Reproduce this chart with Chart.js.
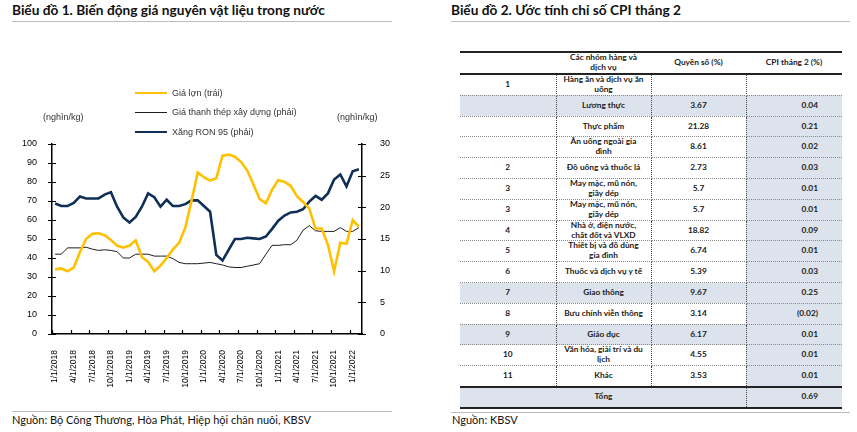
<!DOCTYPE html>
<html>
<head>
<meta charset="utf-8">
<script src="https://cdn.jsdelivr.net/npm/chart.js@4"></script>
<style>
  body { margin:0; background:#fff; width:857px; height:432px; position:relative; overflow:hidden; font-family:"Liberation Sans", Arial, sans-serif; }
  .title { position:absolute; top:2px; font-family:Lato, sans-serif; font-weight:700; font-size:13.7px; color:#111; line-height:16px; white-space:nowrap; }
  .rule { position:absolute; height:0; border-top:1.5px solid #bdbdbd; }
  .src { position:absolute; font-family:Lato, sans-serif; font-size:11px; color:#111; white-space:nowrap; line-height:13px; }
  #chartBox { position:absolute; left:0; top:0; width:420px; height:410px; }
  .unit { position:absolute; top:112px; font-size:9px; color:#333; }
  #legend { position:absolute; left:135px; top:83px; font-size:9px; color:#333; }
  #legend div { height:19.6px; display:flex; align-items:center; white-space:nowrap; }
  #legend span.ln { display:inline-block; width:32px; margin-right:5px; }
  table { position:absolute; left:460px; top:51px; width:382px; border-collapse:collapse; table-layout:fixed;
          font-family:Lato, sans-serif; font-weight:700; font-size:8.3px; color:#1a1a1a; }
  td, th { text-align:center; vertical-align:middle; padding:0 2px; line-height:9.9px; white-space:pre-line; box-sizing:border-box; }
  th { font-weight:700; height:22px; border-top:2px solid #222; border-bottom:2px solid #222; }
  td { height:20.8px; border-bottom:1px dotted #888; }
  td.c1, td.c2, td.c3 { border-right:1px dotted #444; }
  td.c4 { text-align:right; padding-right:24px; }
  .shade { background:#dde3ec; }
  tr.total td { border-top:2px solid #222; border-bottom:2px solid #222; height:21px; }
</style>
</head>
<body>
<div class="title" style="left:12px">Biểu đồ 1. Biến động giá nguyên vật liệu trong nước</div>
<div class="rule" style="left:12px; width:380px; top:20.5px"></div>
<div class="title" style="left:451px">Biểu đồ 2. Ước tính chỉ số CPI tháng 2</div>
<div class="rule" style="left:451px; width:399px; top:20.5px"></div>

<div id="chartBox"><canvas id="myChart"></canvas></div>
<div class="unit" style="left:43px">(nghìn/kg)</div>
<div class="unit" style="left:337px">(nghìn/kg)</div>
<div id="legend"></div>

<div class="rule" style="left:12px; width:380px; top:410.5px"></div>
<div class="src" style="left:12px; top:413px">Nguồn: Bộ Công Thương, Hòa Phát, Hiệp hội chăn nuôi, KBSV</div>
<div class="rule" style="left:451px; width:399px; top:411.5px"></div>
<div class="src" style="left:452px; top:413px">Nguồn: KBSV</div>

<table id="cpiTable"></table>

<script>
// --- chart 1 data (monthly, 1/2018 - 2/2022)
var months = [
  '1/1/2018','2/1/2018','3/1/2018','4/1/2018','5/1/2018','6/1/2018','7/1/2018','8/1/2018','9/1/2018','10/1/2018','11/1/2018','12/1/2018',
  '1/1/2019','2/1/2019','3/1/2019','4/1/2019','5/1/2019','6/1/2019','7/1/2019','8/1/2019','9/1/2019','10/1/2019','11/1/2019','12/1/2019',
  '1/1/2020','2/1/2020','3/1/2020','4/1/2020','5/1/2020','6/1/2020','7/1/2020','8/1/2020','9/1/2020','10/1/2020','11/1/2020','12/1/2020',
  '1/1/2021','2/1/2021','3/1/2021','4/1/2021','5/1/2021','6/1/2021','7/1/2021','8/1/2021','9/1/2021','10/1/2021','11/1/2021','12/1/2021',
  '1/1/2022','2/1/2022'
];
var porkPrice = [34, 34.5, 33, 35, 43, 50, 52.7, 53, 52, 49.5, 46.5, 45.5,
                 46.5, 49.3, 40.5, 38, 33, 36, 40, 44.5, 48, 56, 70, 85,
                 82.5, 80.7, 82, 93.9, 94.4, 93.3, 90.5, 86, 78.5, 71, 68.8, 76,
                 81, 80, 78, 72.5, 69.5, 66, 55.5, 55.5, 47, 33, 48, 47.5,
                 60, 56.5];
var steelPrice = [12.6, 12.6, 13.6, 13.6, 13.6, 13.7, 13.4, 13.2, 13.3, 13.2, 13.0, 12.0,
                  12.0, 12.6, 12.6, 12.6, 12.3, 12.3, 12.3, 11.9, 11.3, 11.1, 11.1, 11.1,
                  11.2, 11.3, 11.1, 10.9, 10.6, 10.5, 10.5, 10.7, 10.9, 11.1, 12.6, 14.0,
                  14.0, 14.1, 14.1, 14.8, 16.4, 17.1, 16.3, 16.2, 16.2, 16.2, 16.8, 16.2,
                  16.2, 16.8];
var ron95Price = [20.6, 20.2, 20.2, 20.7, 21.7, 21.4, 21.4, 21.4, 22.0, 22.4, 20.1, 18.4,
                  17.6, 18.5, 20.1, 22.2, 21.6, 20.1, 21.2, 20.2, 20.2, 20.5, 21.1, 21.1,
                  20.2, 19.3, 12.5, 11.6, 13.3, 15.0, 15.0, 15.2, 15.1, 15.0, 15.4, 16.6,
                  17.9, 18.7, 19.2, 19.3, 19.7, 20.9, 21.8, 21.2, 22.2, 24.4, 25.2, 23.3,
                  25.7, 26.0];

// --- table 2 data
var groupNo = ['1', '', '', '', '2', '3', '3', '4', '5', '6', '7', '8', '9', '10', '11'];
var groupName = ['Hàng ăn và dịch vụ ăn\nuống', 'Lương thực', 'Thực phẩm', 'Ăn uống ngoài gia\nđình',
                 'Đồ uống và thuốc lá', 'May mặc, mũ nón,\ngiầy dép', 'May mặc, mũ nón,\ngiầy dép',
                 'Nhà ở, điện nước,\nchất đốt và VLXD', 'Thiết bị và đồ dùng\ngia đình', 'Thuốc và dịch vụ y tế',
                 'Giao thông', 'Bưu chính viễn thông', 'Giáo dục', 'Văn hóa, giải trí và du\nlịch', 'Khác'];
var weights = ['', '3.67', '21.28', '8.61', '2.73', '5.7', '5.7', '18.82', '6.74', '5.39', '9.67', '3.14', '6.17', '4.55', '3.53'];
var cpiFeb = ['', '0.04', '0.21', '0.02', '0.03', '0.01', '0.01', '0.09', '0.01', '0.03', '0.25', '(0.02)', '0.01', '0.01', '0.01'];
var cpiTotal = '0.69';
var shadedRows = [1, 10, 12];

function build_table(){
    var t = document.getElementById('cpiTable');
    var html = '<colgroup><col style="width:96px"><col style="width:95px"><col style="width:95px"><col style="width:96px"></colgroup>';
    html += '<tr><th></th><th>Các nhóm hàng và\ndịch vụ</th><th>Quyền số (%)</th><th>CPI tháng 2 (%)</th></tr>';
    for (var i = 0; i < groupName.length; i++){
        var full = shadedRows.indexOf(i) >= 0 ? ' shade' : '';
        var last = (i > 0) ? ' shade' : '';
        html += '<tr>' +
            '<td class="c1' + full + '">' + groupNo[i] + '</td>' +
            '<td class="c2' + full + '">' + groupName[i] + '</td>' +
            '<td class="c3' + full + '">' + weights[i] + '</td>' +
            '<td class="c4' + last + '">' + cpiFeb[i] + '</td></tr>';
    }
    html += '<tr class="total shade"><td></td><td>Tổng</td><td class="c3"></td><td class="c4">' + cpiTotal + '</td></tr>';
    t.innerHTML = html;
}

// small tick marks like the excel original
var tickMarks = {
    id: 'tickMarks',
    afterDraw(chart){
        var ctx = chart.ctx, a = chart.chartArea, s = chart.scales;
        ctx.save();
        ctx.strokeStyle = '#000';
        ctx.lineWidth = 1.2;
        ctx.beginPath();
        s.y.ticks.forEach(function(t){
            var py = Math.round(s.y.getPixelForValue(t.value)) + 0.5;
            ctx.moveTo(a.left - 4, py); ctx.lineTo(a.left + 4, py);
        });
        s.y1.ticks.forEach(function(t){
            var py = Math.round(s.y1.getPixelForValue(t.value)) + 0.5;
            ctx.moveTo(a.right - 4, py); ctx.lineTo(a.right + 4, py);
        });
        var half = (s.x.getPixelForValue(1) - s.x.getPixelForValue(0)) / 2;
        for (var i = 0; i < months.length; i += 3){
            var px = Math.round(s.x.getPixelForValue(i) - half) + 0.5;
            ctx.moveTo(px, a.bottom); ctx.lineTo(px, a.bottom - 4);
        }
        ctx.stroke();
        ctx.restore();
    }
};

var myMainChart;
function Drawgraphonfront(){
    var ctx = document.getElementById('myChart').getContext('2d');
    var tickFont = { family: '"Liberation Sans", Arial, sans-serif', size: 9 };
    myMainChart = new Chart(ctx, {
        type: 'line',
        data: {
            labels: months,
            datasets: [
                { label: 'Giá lợn (trái)', data: porkPrice, yAxisID: 'y', borderColor: '#ffc000', borderWidth: 2.6, pointRadius: 0, tension: 0 },
                { label: 'Giá thanh thép xây dựng (phải)', data: steelPrice, yAxisID: 'y1', borderColor: '#1e1e1e', borderWidth: 1, pointRadius: 0, tension: 0 },
                { label: 'Xăng RON 95 (phải)', data: ron95Price, yAxisID: 'y1', borderColor: '#0f2f57', borderWidth: 2.6, pointRadius: 0, tension: 0 }
            ]
        },
        options: {
            responsive: true,
            maintainAspectRatio: false,
            animation: false,
            layout: { padding: { top: 144, left: 0, right: 0, bottom: 0 } },
            plugins: { legend: { display: false }, tooltip: { enabled: false } },
            scales: {
                x: {
                    offset: true,
                    grid: { display: false },
                    border: { display: true, color: '#000', width: 1.5 },
                    ticks: {
                        autoSkip: false, maxRotation: 90, minRotation: 90, padding: 8,
                        color: '#000', font: { family: tickFont.family, size: 8.5 },
                        callback: function(val, idx){ return idx % 3 === 0 ? this.getLabelForValue(val) : null; }
                    },
                    afterFit: function(scale){ scale.height = 76; }
                },
                y: {
                    position: 'left', min: 0, max: 100,
                    grid: { display: false },
                    border: { display: true, color: '#000', width: 1.5 },
                    ticks: { stepSize: 10, padding: 7, color: '#000', font: tickFont },
                    afterFit: function(scale){ scale.width = 52; }
                },
                y1: {
                    position: 'right', min: 0, max: 30,
                    grid: { display: false },
                    border: { display: true, color: '#000', width: 1.5 },
                    ticks: { stepSize: 5, padding: 10, color: '#000', font: tickFont },
                    afterFit: function(scale){ scale.width = 58; }
                }
            }
        },
        plugins: [tickMarks]
    });

    // html legend stacked like the original
    var lg = document.getElementById('legend');
    myMainChart.data.datasets.forEach(function(ds){
        var row = document.createElement('div');
        row.innerHTML = '<span class="ln" style="border-top:' + ds.borderWidth + 'px solid ' + ds.borderColor + '"></span>' + ds.label;
        lg.appendChild(row);
    });
}

build_table();
Drawgraphonfront();
</script>
</body>
</html>
